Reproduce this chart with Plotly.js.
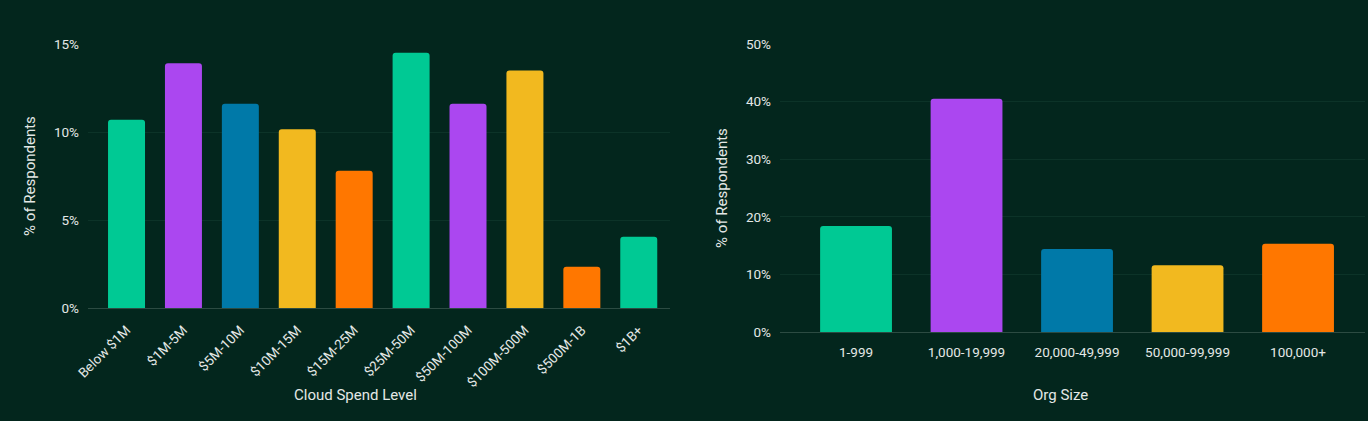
<!DOCTYPE html>
<html>
<head>
<meta charset="utf-8">
<script src="https://cdn.plot.ly/plotly-3.0.1.min.js"></script>
<style>
html,body{margin:0;padding:0;background:#03261d;}
#chart{width:1368px;height:421px;}
</style>
</head>
<body>
<div id="chart"></div>
<script>
const spendLevels = ["Below $1M","$1M-5M","$5M-10M","$10M-15M","$15M-25M","$25M-50M","$50M-100M","$100M-500M","$500M-1B","$1B+"];
const spendPct = [10.7, 13.9, 11.6, 10.15, 7.8, 14.5, 11.6, 13.5, 2.35, 4.05];
const spendColors = ["#00c994","#ab47f0","#0079a8","#f2b91f","#ff7700","#00c994","#ab47f0","#f2b91f","#ff7700","#00c994"];

const orgSizes = ["1-999","1,000-19,999","20,000-49,999","50,000-99,999","100,000+"];
const orgPct = [18.4, 40.5, 14.4, 11.6, 15.3];
const orgColors = ["#00c994","#ab47f0","#0079a8","#f2b91f","#ff7700"];

const xTitles = ["Cloud Spend Level", "Org Size"];

const textColor = "#e3e8e6";
const font = {family: "Roboto, 'Noto Sans', sans-serif", size: 13, color: textColor};

const traces = [
  {type:"bar", x: spendLevels, y: spendPct, xaxis:"x", yaxis:"y",
   marker:{color: spendColors, cornerradius: 3, line:{width:0}}, hoverinfo:"x+y"},
  {type:"bar", x: orgSizes, y: orgPct, xaxis:"x2", yaxis:"y2",
   marker:{color: orgColors, cornerradius: 3, line:{width:0}}, hoverinfo:"x+y"}
];

const grid = "#0c3328";
const zero = "#2c4b42";

const layout = {
  width:1368, height:421,
  paper_bgcolor:"#03261d", plot_bgcolor:"#03261d",
  margin:{l:88, r:3, t:44, b:89},
  showlegend:false,
  bargap:0.35,
  font: font,
  xaxis:{domain:[0,0.4558], anchor:"y", type:"category", range:[-0.677,9.55],
    tickangle:-45, showgrid:false, showline:true, linecolor:zero, linewidth:1,
    ticks:"", ticklabelstandoff: 8, tickfont:{size:13.5, color:textColor}},
  yaxis:{domain:[0.0833,1], anchor:"x", range:[0,15], tickvals:[0,5,10,15],
    ticktext:["0%","5%","10%","15%"], gridcolor:grid, zeroline:false, showline:false,
    ticks:"", ticklabelstandoff: 8, tickfont:{size:13.5, color:textColor},
    title:{text:"% of Respondents", font:{size:15, color:textColor}, standoff:14}},
  xaxis2:{domain:[0.5419,1], anchor:"y2", type:"category", range:[-0.688,4.606],
    tickangle:0, showgrid:false, showline:true, linecolor:zero, linewidth:1,
    ticks:"", ticklabelstandoff: 8, tickfont:{size:13.5, color:textColor}},
  yaxis2:{domain:[0,1], anchor:"x2", range:[0,50], tickvals:[0,10,20,30,40,50],
    ticktext:["0%","10%","20%","30%","40%","50%"], gridcolor:grid, zeroline:false, showline:false,
    ticks:"", ticklabelstandoff: 8, tickfont:{size:13.5, color:textColor},
    title:{text:"% of Respondents", font:{size:15, color:textColor}, standoff:14}},
  annotations:[
    {text: xTitles[0], xref:"paper", yref:"paper", x:0.2091, y:-0.21875,
     xanchor:"center", yanchor:"middle", showarrow:false, font:{size:15, color:textColor}},
    {text: xTitles[1], xref:"paper", yref:"paper", x:0.7612, y:-0.21875,
     xanchor:"center", yanchor:"middle", showarrow:false, font:{size:15, color:textColor}}
  ]
};

Plotly.newPlot("chart", traces, layout, {displayModeBar:false, staticPlot:true});
</script>
</body>
</html>
